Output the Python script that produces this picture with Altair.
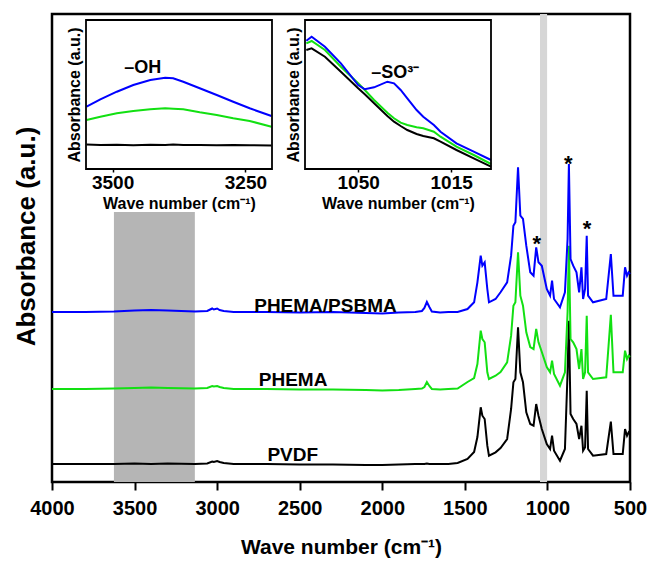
import altair as alt
import pandas as pd

# ---------------- data ----------------
series_names = ["PVDF", "PHEMA", "PHEMA/PSBMA"]
series_colors = ["#000000", "#12e012", "#0000ff"]

# main FTIR spectra (offset, arbitrary units)
wave_number = [4000, 3800, 3625, 3500, 3400, 3300, 3135, 3060, 3030, 3020, 3000, 2985, 2960, 2900,
               2700, 2500, 2300, 2100, 2000, 1900, 1800, 1760, 1745, 1730, 1715, 1700, 1650, 1600,
               1544, 1484, 1444, 1424, 1404, 1394, 1380, 1364, 1354, 1314, 1284, 1244, 1220, 1206,
               1194, 1178, 1164, 1148, 1128, 1104, 1084, 1068, 1054, 1034, 1004, 984, 972, 960,
               924, 894, 878, 870, 860, 844, 824, 808, 794, 784, 772, 762, 754, 724, 644, 616,
               600, 544, 530, 518, 508, 500]
abs_psbma = [170, 170, 170.5, 171.5, 172, 171.5, 170.5, 171, 173.5, 172.5, 173.5, 172, 171, 170,
             170, 169.5, 170, 169, 168.5, 169.5, 170, 171, 174, 180, 175, 170.5, 169.5, 170,
             170, 173, 179.7, 199.7, 226.3, 216.3, 219.7, 193, 179.7, 183, 189.7, 199.7, 226.3, 256.3,
             259.7, 314.7, 266.3, 263, 236.3, 209.7, 206.3, 234.7, 219.7, 216.3, 193, 186.3, 201.3, 183,
             174.7, 189.7, 243, 318, 223, 216.3, 209.7, 189.7, 214.7, 183, 193, 246.3, 186.3, 179.7, 183, 228,
             186.3, 186.3, 214.7, 206.3, 209.7, 208]
abs_phema = [93, 93, 93.5, 94, 94.5, 94, 93.5, 94, 96, 95.5, 96, 95, 94, 93,
             93, 92.5, 92.5, 92, 91.5, 92, 93, 93.5, 95, 100, 96, 93, 92.5, 93,
             93.5, 100, 104, 118, 151.3, 143, 139.7, 109.7, 103, 106.3, 110, 119.7, 146.3, 176.3,
             179.7, 229.7, 186.3, 176.3, 149.7, 135, 133, 153, 139.7, 130, 115, 109.7, 121.3, 108,
             96.3, 109.7, 169.7, 236.3, 143, 139.7, 133, 113, 133, 103, 109.7, 166.3, 109.7, 103, 104.7, 167.3,
             109.7, 109.7, 131.3, 123, 126.3, 125]
abs_pvdf = [18, 18, 18, 18.5, 18, 18.5, 18, 18.5, 20.5, 20, 21, 20, 19, 18,
            18, 17.5, 17.5, 17, 17, 17.5, 18, 18, 18, 18.5, 18, 18, 18, 18,
            19, 23, 30, 45, 74.7, 66.3, 63, 36.3, 26.3, 29.7, 34, 43, 73, 99.7,
            103, 154.7, 109.7, 99.7, 69.7, 58, 56.3, 78, 66.3, 53, 38, 33, 46.3, 31.3,
            21.3, 33, 109.7, 161.3, 68, 63, 58, 43, 56.3, 31.3, 34.7, 91.3, 33, 26.3, 28, 60.3,
            28, 28, 53, 46.3, 49.7, 48]

# inset: -OH region
oh_wn = [3549, 3523, 3492, 3461, 3429, 3401, 3386, 3367, 3336, 3304, 3273, 3242, 3201]
oh_psbma = [62.3, 69.7, 77.3, 84, 89, 91.3, 90.7, 87.3, 80.7, 74, 67.3, 60.7, 53]
oh_phema = [49, 52.3, 55.7, 58, 59.7, 60.7, 60.3, 59.7, 56.7, 54, 50.7, 48, 42.3]
oh_pvdf = [24.5, 24, 24.3, 23.8, 24.2, 24, 24.4, 23.9, 24.1, 23.8, 24, 23.7, 23.6]

# inset: -SO3- region
so_wn = [1069.5, 1067.5, 1062.5, 1056.5, 1050, 1047.5, 1044, 1039, 1036.5, 1034, 1031.5, 1028,
         1025.5, 1021.5, 1019, 1013, 1006.5, 1000]
so_psbma = [128.3, 132.3, 122.3, 105.7, 84, 79.7, 81.7, 87.3, 85.7, 79, 70.7, 59, 52.3, 44, 37.3,
            25.7, 17.3, 9]
so_phema = [125.7, 128, 119, 102.3, 85.7, 79, 69, 56.3, 50.7, 46.3, 44, 41.7, 40.7, 37.3, 32.3,
            22.3, 14, 5]
so_pvdf = [119, 120.7, 112.3, 97.3, 80.7, 74.7, 65.7, 53, 47.3, 43, 39, 35, 33, 30.7, 27.3, 19,
           10.7, 2.3]

# annotations
label_texts = ["PHEMA/PSBMA", "PHEMA", "PVDF"]
label_wn = [2344, 2540, 2542]
label_abs = [176, 102.5, 26.7]
star_wn = [1064, 874, 760]
star_abs = [243, 323, 258]
dark_band = [3625, 3135, 0, 270]     # start, end, bottom, top
light_band = [1045, 1002, 0, 468]
main_ticks = [4000, 3500, 3000, 2500, 2000, 1500, 1000, 500]


def long_form(wn, pvdf, phema, psbma):
    rows = []
    for name, vals in zip(series_names, [pvdf, phema, psbma]):
        for w, v in zip(wn, vals):
            rows.append({"wn": w, "absorb": v, "series": name})
    return pd.DataFrame(rows)


def box(vals):
    return pd.DataFrame({"a": [vals[0]], "b": [vals[1]], "lo": [vals[2]], "hi": [vals[3]]})


df_main = long_form(wave_number, abs_pvdf, abs_phema, abs_psbma)
df_oh = long_form(oh_wn, oh_pvdf, oh_phema, oh_psbma)
df_so = long_form(so_wn, so_pvdf, so_phema, so_psbma)

W, H = 578, 468
color = alt.Color("series:N", scale=alt.Scale(domain=series_names, range=series_colors), legend=None)

# ---------------- main panel ----------------
xs = alt.Scale(domain=[4000, 500], nice=False, zero=False)
ys = alt.Scale(domain=[0, 468], nice=False, zero=False)

x_axis = alt.Axis(orient="bottom", values=main_ticks, format="d", title="Wave number (cm⁻¹)",
                  labelFontSize=20, labelFontWeight="bold", labelColor="black", labelFlush=False,
                  labelPadding=8, tickSize=8, tickWidth=2, tickColor="black",
                  titleFontSize=21, titleFontWeight="bold", titleColor="black", titlePadding=18,
                  domain=False, grid=False)
y_axis = alt.Axis(orient="left", title="Absorbance (a.u.)", ticks=False, labels=False,
                  domain=False, grid=False, titleFontSize=26, titleFontWeight="bold",
                  titleColor="black", titlePadding=13, titleY=222)

band1 = alt.Chart(box(dark_band)).mark_rect(color="#b5b5b5").encode(
    x=alt.X("a:Q", scale=xs, axis=None), x2="b:Q",
    y=alt.Y("lo:Q", scale=ys, axis=None), y2="hi:Q")
band2 = alt.Chart(box(light_band)).mark_rect(color="#d6d6d6").encode(
    x=alt.X("a:Q", scale=xs, axis=None), x2="b:Q",
    y=alt.Y("lo:Q", scale=ys, axis=None), y2="hi:Q")
lines = alt.Chart(df_main).mark_line(strokeWidth=2).encode(
    x=alt.X("wn:Q", scale=xs, axis=x_axis),
    y=alt.Y("absorb:Q", scale=ys, axis=y_axis),
    color=color)
labels = alt.Chart(pd.DataFrame({"t": label_texts, "wn": label_wn, "a": label_abs})).mark_text(
    fontSize=19, fontWeight="bold", color="black", baseline="middle").encode(
    x=alt.X("wn:Q", scale=xs, axis=None), y=alt.Y("a:Q", scale=ys, axis=None), text="t:N")
stars = alt.Chart(pd.DataFrame({"wn": star_wn, "a": star_abs, "t": ["*"] * 3})).mark_text(
    fontSize=22, fontWeight="bold", color="black", baseline="middle", dy=5).encode(
    x=alt.X("wn:Q", scale=xs, axis=None), y=alt.Y("a:Q", scale=ys, axis=None), text="t:N")

layers = [band1, band2, lines, labels, stars]


# ---------------- insets ----------------
def inset(df, dom, xrange, ticks, label, label_pos):
    sx = alt.Scale(domain=dom, range=xrange, nice=False, zero=False)
    sy = alt.Scale(domain=[0, 149], range=[155, 6], nice=False, zero=False)
    ax = alt.Axis(orient="bottom", offset=155 - H, values=ticks, format="d",
                  title="Wave number (cm⁻¹)",
                  labelFontSize=19, labelFontWeight="bold", labelColor="black", labelFlush=False,
                  labelPadding=1, tickSize=3, tickWidth=1.5, tickColor="black",
                  titleFontSize=16, titleFontWeight="bold", titleColor="black", titlePadding=3,
                  domain=False, grid=False)
    ay = alt.Axis(orient="left", offset=-xrange[0], title="Absorbance (a.u.)", ticks=False,
                  labels=False, domain=False, grid=False, titleFontSize=16,
                  titleFontWeight="bold", titleColor="black", titlePadding=4)
    frame = alt.Chart(box([dom[0], dom[1], 0, 149])).mark_rect(
        fillOpacity=0, stroke="black", strokeWidth=1.8).encode(
        x=alt.X("a:Q", scale=sx, axis=None), x2="b:Q",
        y=alt.Y("lo:Q", scale=sy, axis=None), y2="hi:Q")
    ln = alt.Chart(df).mark_line(strokeWidth=2).encode(
        x=alt.X("wn:Q", scale=sx, axis=ax),
        y=alt.Y("absorb:Q", scale=sy, axis=ay),
        color=color)
    txt = alt.Chart(pd.DataFrame({"t": [label], "wn": [label_pos[0]], "a": [label_pos[1]]})).mark_text(
        fontSize=18, fontWeight="bold", color="black", baseline="middle").encode(
        x=alt.X("wn:Q", scale=sx, axis=None), y=alt.Y("a:Q", scale=sy, axis=None), text="t:N")
    return [ln, frame, txt]


layers += inset(df_oh, [3550, 3200], [34, 220], [3500, 3250], "–OH", (3443, 100.7))
layers += inset(df_so, [1070, 1000], [253, 439], [1050, 1015], "–SO³⁻", (1036, 96))

chart = alt.layer(*layers).resolve_scale(
    x="independent", y="independent"
).properties(
    width=W, height=H,
    autosize=alt.AutoSizeParams(type="none"),
    padding={"left": 44, "top": 6, "right": 18, "bottom": 80},
).configure(font="Liberation Sans").configure_view(stroke="black", strokeWidth=2.5)

chart.save("out.html", embed_options={"renderer": "svg", "actions": False})
